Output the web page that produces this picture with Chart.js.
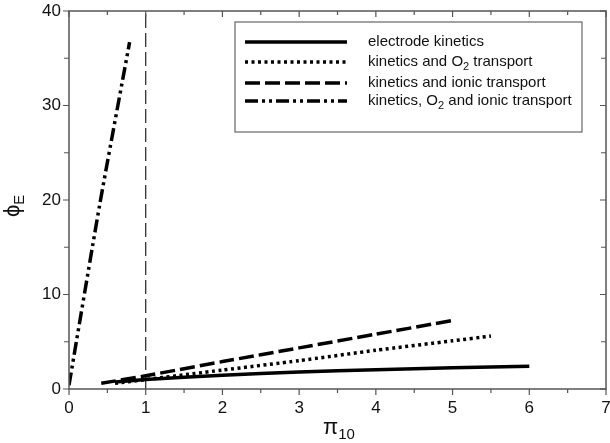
<!DOCTYPE html>
<html>
<head>
<meta charset="utf-8">
<script src="https://cdn.jsdelivr.net/npm/chart.js@4"></script>
<style>
  html, body { margin: 0; padding: 0; background: #fff; }
  #wrap { width: 610px; height: 443px; position: relative; }
</style>
</head>
<body>
<div id="wrap"><canvas id="chart"></canvas></div>
<script>
// ---- data ----
const kineticsX = [0.6, 1, 2, 3, 4, 5, 6];
const kineticsY = [0.75, 1.0, 1.45, 1.8, 2.05, 2.25, 2.4];

const o2X = [0.6, 1, 2, 3, 4, 5, 5.5];
const o2Y = [0.6, 1.0, 2.0, 3.0, 4.1, 5.1, 5.6];

const ionicX = [0.42, 1, 2, 3, 4, 5];
const ionicY = [0.6, 1.4, 2.9, 4.35, 5.8, 7.25];

const allX = [0, 0.4, 0.79];
const allY = [0.4, 19.5, 36.7];

const markerX = [1, 1];
const markerY = [0, 40];

const legendLabels = [
  ["electrode kinetics"],
  ["kinetics and O", "2", " transport"],
  ["kinetics and ionic transport"],
  ["kinetics, O", "2", " and ionic transport"]
];

const xTicks = [0, 1, 2, 3, 4, 5, 6, 7];
const yTicks = [0, 10, 20, 30, 40];

const toPts = (xs, ys) => xs.map((x, i) => ({ x: x, y: ys[i] }));

const lineStyles = [
  { dash: [], width: 3.5 },
  { dash: [3, 3.5], width: 3.5 },
  { dash: [15, 5], width: 3.5 },
  { dash: [13, 4, 3, 4, 3, 4], width: 3.5 }
];

const FONT = '"Liberation Sans", Arial, sans-serif';

// 枠・目盛・凡例・軸タイトルを描くプラグイン
const decorations = {
  id: 'decorations',
  afterDraw(chart) {
    const ctx = chart.ctx;
    const a = chart.chartArea;
    const xs = chart.scales.x, ys = chart.scales.y;
    ctx.save();

    // frame
    ctx.strokeStyle = '#555';
    ctx.lineWidth = 1.5;
    ctx.setLineDash([]);
    ctx.strokeRect(a.left, a.top, a.right - a.left, a.bottom - a.top);

    // ticks: left/bottom outward, top/right inward
    ctx.lineWidth = 1.2;
    for (let v = 0; v <= 7.001; v += 0.5) {
      const px = xs.getPixelForValue(v);
      const len = Number.isInteger(v) ? 6 : 4;
      ctx.beginPath();
      ctx.moveTo(px, a.bottom); ctx.lineTo(px, a.bottom + len);
      ctx.moveTo(px, a.top); ctx.lineTo(px, a.top + len);
      ctx.stroke();
    }
    for (let v = 0; v <= 40.001; v += 5) {
      const py = ys.getPixelForValue(v);
      const len = v % 10 === 0 ? 6 : 5;
      ctx.beginPath();
      ctx.moveTo(a.left, py); ctx.lineTo(a.left - len, py);
      ctx.moveTo(a.right, py); ctx.lineTo(a.right - len, py);
      ctx.stroke();
    }

    // legend box
    const bx = 235, by = 22, bw = 347, bh = 110;
    ctx.strokeStyle = '#666';
    ctx.lineWidth = 1.2;
    ctx.strokeRect(bx, by, bw, bh);
    const rows = [42, 62, 83, 101];
    rows.forEach((ry, i) => {
      const st = lineStyles[i];
      ctx.strokeStyle = '#000';
      ctx.lineWidth = st.width;
      ctx.setLineDash(st.dash);
      ctx.beginPath();
      ctx.moveTo(245, ry); ctx.lineTo(347, ry);
      ctx.stroke();
      ctx.setLineDash([]);
      drawSubText(ctx, legendLabels[i], 368, ry, 15, 11);
    });

    // axis titles
    drawSubText(ctx, ['\u03C0', '10', ''], 323, 428, 22, 15);
    ctx.save();
    ctx.translate(13, 210);
    ctx.rotate(-Math.PI / 2);
    drawSubText(ctx, ['\u03D5', 'E', ''], -7, 0, 22, 15);
    ctx.restore();

    ctx.restore();
  }
};

// parts: [normal, sub, normal, ...]
function drawSubText(ctx, parts, x, y, size, subSize) {
  ctx.fillStyle = '#111';
  ctx.textBaseline = 'middle';
  ctx.textAlign = 'left';
  let cx = x;
  parts.forEach((p, i) => {
    const isSub = i % 2 === 1;
    ctx.font = (isSub ? subSize : size) + 'px ' + FONT;
    ctx.fillText(p, cx, isSub ? y + size * 0.3 : y);
    cx += ctx.measureText(p).width;
  });
}

const datasets = [
  { data: toPts(kineticsX, kineticsY) },
  { data: toPts(o2X, o2Y) },
  { data: toPts(ionicX, ionicY) },
  { data: toPts(allX, allY) }
].map((d, i) => ({
  data: d.data,
  showLine: true,
  borderColor: '#000',
  borderWidth: lineStyles[i].width,
  borderDash: lineStyles[i].dash,
  borderCapStyle: 'butt',
  pointRadius: 0,
  tension: 0.2
}));

datasets.push({
  data: toPts(markerX, markerY),
  showLine: true,
  borderColor: '#222',
  borderWidth: 1.2,
  borderDash: [14, 5],
  pointRadius: 0
});

new Chart(document.getElementById('chart'), {
  type: 'scatter',
  data: { datasets: datasets },
  options: {
    responsive: true,
    maintainAspectRatio: false,
    animation: false,
    events: [],
    layout: { padding: { left: 0, right: 4, top: 11, bottom: 0 } },
    plugins: { legend: { display: false }, tooltip: { enabled: false } },
    scales: {
      x: {
        type: 'linear', min: 0, max: 7,
        afterBuildTicks: s => { s.ticks = xTicks.map(v => ({ value: v })); },
        afterFit: s => { s.height = 54; s.paddingLeft = 0; s.paddingRight = 0; },
        grid: { display: false, drawTicks: false },
        border: { display: false },
        ticks: { padding: 9, color: '#111', maxRotation: 0, font: { family: FONT, size: 17 } }
      },
      y: {
        type: 'linear', min: 0, max: 40,
        afterBuildTicks: s => { s.ticks = yTicks.map(v => ({ value: v })); },
        afterFit: s => { s.width = 69; s.paddingTop = 0; s.paddingBottom = 0; },
        grid: { display: false, drawTicks: false },
        border: { display: false },
        ticks: { padding: 8, color: '#111', font: { family: FONT, size: 17 } }
      }
    }
  },
  plugins: [decorations]
});
</script>
</body>
</html>
